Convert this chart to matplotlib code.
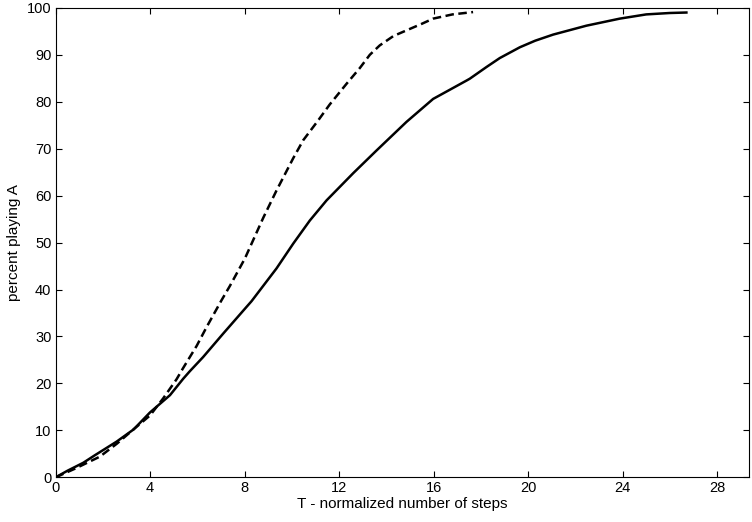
import matplotlib
matplotlib.use("Agg")
import matplotlib.pyplot as plt

plt.rcParams['font.family'] = ['Liberation Sans', 'DejaVu Sans']

# solid curve
solid_x = [0, 0.5, 1.17, 1.66, 2.58, 3.3, 3.99, 4.84, 5.4, 5.68, 6.24, 7.09,
           8.08, 8.29, 9.35, 10.06, 10.76, 11.47, 12.6, 13.58, 14.85, 15.98,
           17.39, 17.53, 18.24, 18.8, 19.65, 20.3, 21.06, 22.47, 23.88, 25.0,
           26.0, 26.7]
solid_y = [0, 1.4, 3.1, 4.7, 7.6, 10.2, 13.8, 17.5, 21.0, 22.6, 25.6, 30.6,
           36.3, 37.5, 44.5, 49.8, 54.7, 59.0, 64.8, 69.6, 75.7, 80.6,
           84.5, 84.9, 87.4, 89.3, 91.6, 93.0, 94.3, 96.2, 97.7, 98.6,
           98.9, 99.0]

# dashed curve
dash_x = [0, 0.8, 1.87, 2.6, 3.27, 4.0, 4.55, 5.12, 5.4, 5.97, 6.39, 7.02,
          7.38, 8.01, 8.79, 9.35, 10.06, 10.48, 11.11, 11.6,
          12.31, 12.88, 13.3, 13.72, 14.3, 14.99, 15.5, 15.98, 16.8, 17.67]
dash_y = [0, 1.8, 4.4, 7.2, 10.1, 13.2, 16.8, 20.9, 23.3, 28.0, 32.0, 37.7,
          40.8, 46.6, 55.3, 61.1, 68.0, 71.8, 76.0, 79.4,
          83.8, 87.2, 90.0, 92.0, 94.0, 95.5, 96.6, 97.7, 98.6, 99.1]

xticks = [0, 4, 8, 12, 16, 20, 24, 28]
yticks = list(range(0, 101, 10))

fig = plt.figure(figsize=(7.52, 5.22), dpi=100)
ax = fig.add_axes([0.074, 0.0856, 0.922, 0.8994])

ax.plot(solid_x, solid_y, color='black', lw=1.8, solid_joinstyle='round')
ax.plot(dash_x, dash_y, color='black', lw=1.8, linestyle=(0, (3.4, 1.8)))

ax.set_xlim(0, 29.35)
ax.set_ylim(0, 100)
ax.set_xticks(xticks)
ax.set_yticks(yticks)
ax.tick_params(direction='in', top=True, right=True, length=4, width=0.8,
               labelsize=10.5, pad=3)
for s in ax.spines.values():
    s.set_linewidth(0.8)

ax.set_xlabel('T - normalized number of steps', fontsize=11, labelpad=1)
ax.set_ylabel('percent playing A', fontsize=11, labelpad=4)

fig.savefig('out.png', dpi=100)
